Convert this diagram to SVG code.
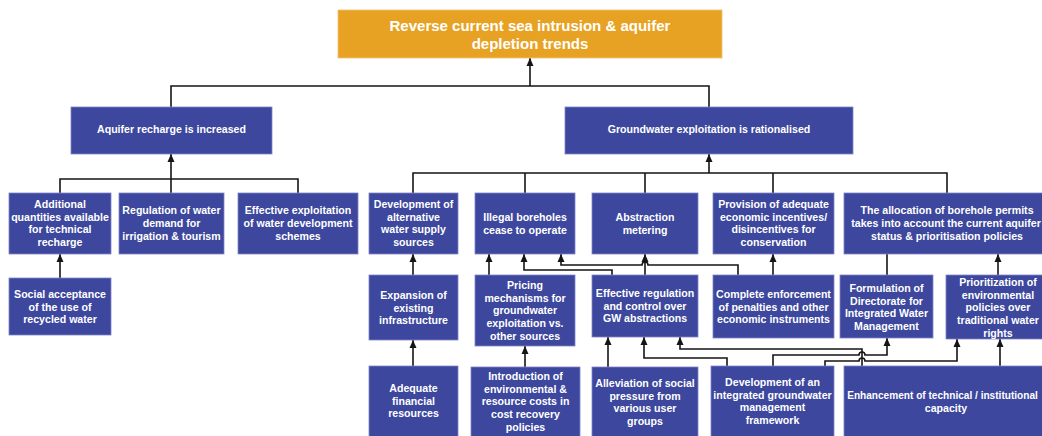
<svg xmlns="http://www.w3.org/2000/svg" width="1042" height="436" viewBox="0 0 1042 436">
  <defs>
    <style>
      .box { fill: #3c479d; stroke: #7f85c8; stroke-width: 0.8; }
      .goal { fill: #e7a224; stroke: #f0c070; stroke-width: 0.8; }
      .t { font-family: "Liberation Sans", Arial, sans-serif; font-weight: bold; font-size: 10.6px; fill: #ffffff; text-anchor: middle; }
      .tt { font-family: "Liberation Sans", Arial, sans-serif; font-weight: bold; font-size: 15px; fill: #ffffff; text-anchor: middle; }
      .c { fill: none; stroke: #151515; stroke-width: 1.6; }
      .a { marker-end: url(#arrow); }
    </style>
    <marker id="arrow" markerUnits="userSpaceOnUse" viewBox="0 0 8 8" refX="8" refY="4" markerWidth="8" markerHeight="8" orient="auto">
      <path d="M0,0.5 L8,4 L0,7.5 z" fill="#151515"/>
    </marker>
  </defs>
  <rect width="1042" height="436" fill="#ffffff"/>

  <!-- connectors -->
  <g id="connectors">
    <!-- to goal -->
    <path class="c" d="M171,107 V86 H709 V107"/>
    <path class="c a" d="M530,86 V58"/>
    <!-- to aquifer recharge -->
    <path class="c" d="M60,193 V179 H298 V193"/>
    <path class="c a" d="M171,193 V154"/>
    <!-- to groundwater exploitation -->
    <path class="c" d="M413,193 V173 H947 V193 M525,193 V173 M645,193 V173 M773,193 V173"/>
    <path class="c a" d="M709,173 V154"/>
    <!-- left column -->
    <path class="c a" d="M60,278 V254"/>
    <!-- development of alternative supply -->
    <path class="c a" d="M413,275 V254"/>
    <path class="c a" d="M413,366 V340"/>
    <!-- pricing -->
    <path class="c a" d="M525,367 V346"/>
    <path class="c a" d="M489,275 V254"/>
    <!-- effective regulation -->
    <path class="c a" d="M612,275 V270 H524 V254"/>
    <path class="c a" d="M645,275 V254"/>
    <!-- complete enforcement -->
    <path class="c a" d="M738,275 V265 H648 A3,3 0 0 0 642,265 H561 V254"/>
    <path class="c a" d="M773,275 V254"/>
    <!-- directorate / prioritisation -->
    <path class="c" d="M887,275 V254"/>
    <path class="c a" d="M998,275 V254"/>
    <!-- bottom row -->
    <path class="c a" d="M608,367 V337"/>
    <path class="c a" d="M727,366 V358 H644 V337"/>
    <path class="c a" d="M862,366 V349 H680 V337"/>
    <path class="c a" d="M773,366 V355 H859 A3,3 0 0 1 865,355 H887 V338"/>
    <path class="c a" d="M825,366 V361 H859 A3,3 0 0 1 865,361 H957 V339"/>
    <path class="c a" d="M1000,366 V339"/>
  </g>

  <!-- goal -->
  <g id="goal">
    <rect class="goal" x="338" y="10" width="384" height="48"/>
    <text class="tt" x="530" y="30.5">Reverse current sea intrusion &amp; aquifer</text>
    <text class="tt" x="530" y="48.5">depletion trends</text>
  </g>

  <!-- level 1 -->
  <g id="aquifer-recharge">
    <rect class="box" x="71" y="107" width="201" height="47"/>
    <text class="t" x="171.5" y="133">Aquifer recharge is increased</text>
  </g>
  <g id="groundwater-rationalised">
    <rect class="box" x="565" y="107" width="288" height="47"/>
    <text class="t" x="709" y="133">Groundwater exploitation is rationalised</text>
  </g>

  <!-- level 2 -->
  <g id="additional-quantities">
    <rect class="box" x="9" y="193" width="102" height="61"/>
    <text class="t" x="60" y="207.8">Additional</text>
    <text class="t" x="60" y="220.5">quantities available</text>
    <text class="t" x="60" y="233.2">for technical</text>
    <text class="t" x="60" y="245.9">recharge</text>
  </g>
  <g id="regulation-demand">
    <rect class="box" x="119" y="193" width="105" height="61"/>
    <text class="t" x="171.5" y="214">Regulation of water</text>
    <text class="t" x="171.5" y="227">demand for</text>
    <text class="t" x="171.5" y="240">irrigation &amp; tourism</text>
  </g>
  <g id="effective-exploitation">
    <rect class="box" x="238" y="193" width="120" height="61"/>
    <text class="t" x="298" y="214">Effective exploitation</text>
    <text class="t" x="298" y="227">of water development</text>
    <text class="t" x="298" y="240">schemes</text>
  </g>
  <g id="alternative-supply">
    <rect class="box" x="369" y="193" width="89" height="61"/>
    <text class="t" x="413.5" y="207.8">Development of</text>
    <text class="t" x="413.5" y="220.5">alternative</text>
    <text class="t" x="413.5" y="233.2">water supply</text>
    <text class="t" x="413.5" y="245.9">sources</text>
  </g>
  <g id="illegal-boreholes">
    <rect class="box" x="475" y="193" width="100" height="61"/>
    <text class="t" x="525" y="221">Illegal boreholes</text>
    <text class="t" x="525" y="233.7">cease to operate</text>
  </g>
  <g id="abstraction-metering">
    <rect class="box" x="592" y="193" width="106" height="61"/>
    <text class="t" x="645" y="221">Abstraction</text>
    <text class="t" x="645" y="233.7">metering</text>
  </g>
  <g id="economic-incentives">
    <rect class="box" x="713" y="193" width="121" height="61"/>
    <text class="t" x="773.5" y="207.8">Provision of adequate</text>
    <text class="t" x="773.5" y="220.5">economic incentives/</text>
    <text class="t" x="773.5" y="233.2">disincentives for</text>
    <text class="t" x="773.5" y="245.9">conservation</text>
  </g>
  <g id="borehole-permits">
    <rect class="box" x="844" y="193" width="206" height="61"/>
    <text class="t" x="947" y="214">The allocation of borehole permits</text>
    <text class="t" x="946" y="227">takes into account the current aquifer</text>
    <text class="t" x="947" y="240">status &amp; prioritisation policies</text>
  </g>

  <!-- level 3 -->
  <g id="social-acceptance">
    <rect class="box" x="9" y="278" width="102" height="57"/>
    <text class="t" x="60" y="298">Social acceptance</text>
    <text class="t" x="60" y="310.7">of the use of</text>
    <text class="t" x="60" y="323.4">recycled water</text>
  </g>
  <g id="expansion-infrastructure">
    <rect class="box" x="369" y="275" width="89" height="65"/>
    <text class="t" x="413.5" y="299">Expansion of</text>
    <text class="t" x="413.5" y="311.7">existing</text>
    <text class="t" x="413.5" y="324.4">infrastructure</text>
  </g>
  <g id="pricing-mechanisms">
    <rect class="box" x="475" y="275" width="100" height="71"/>
    <text class="t" x="525" y="289">Pricing</text>
    <text class="t" x="525" y="301.7">mechanisms for</text>
    <text class="t" x="525" y="314.4">groundwater</text>
    <text class="t" x="525" y="327.1">exploitation vs.</text>
    <text class="t" x="525" y="339.8">other sources</text>
  </g>
  <g id="effective-regulation">
    <rect class="box" x="592" y="275" width="106" height="62"/>
    <text class="t" x="645" y="297">Effective regulation</text>
    <text class="t" x="645" y="309.7">and control over</text>
    <text class="t" x="645" y="322.4">GW abstractions</text>
  </g>
  <g id="complete-enforcement">
    <rect class="box" x="713" y="275" width="121" height="63"/>
    <text class="t" x="773.5" y="298">Complete enforcement</text>
    <text class="t" x="773.5" y="310.7">of penalties and other</text>
    <text class="t" x="773.5" y="323.4">economic instruments</text>
  </g>
  <g id="directorate">
    <rect class="box" x="840" y="275" width="93" height="63"/>
    <text class="t" x="886.5" y="292">Formulation of</text>
    <text class="t" x="886.5" y="304.7">Directorate for</text>
    <text class="t" x="886.5" y="317.4">Integrated Water</text>
    <text class="t" x="886.5" y="330.1">Management</text>
  </g>
  <g id="environmental-priority">
    <rect class="box" x="946" y="275" width="104" height="64"/>
    <text class="t" x="998" y="286">Prioritization of</text>
    <text class="t" x="998" y="298.7">environmental</text>
    <text class="t" x="998" y="311.4">policies over</text>
    <text class="t" x="998" y="324.1">traditional water</text>
    <text class="t" x="998" y="336.8">rights</text>
  </g>

  <!-- level 4 -->
  <g id="financial-resources">
    <rect class="box" x="369" y="366" width="89" height="75"/>
    <text class="t" x="413.5" y="392">Adequate</text>
    <text class="t" x="413.5" y="404.7">financial</text>
    <text class="t" x="413.5" y="417.4">resources</text>
  </g>
  <g id="resource-costs">
    <rect class="box" x="471" y="367" width="109" height="74"/>
    <text class="t" x="525.5" y="380">Introduction of</text>
    <text class="t" x="525.5" y="392.7">environmental &amp;</text>
    <text class="t" x="525.5" y="405.4">resource costs in</text>
    <text class="t" x="525.5" y="418.1">cost recovery</text>
    <text class="t" x="525.5" y="430.8">policies</text>
  </g>
  <g id="social-pressure">
    <rect class="box" x="592" y="367" width="106" height="74"/>
    <text class="t" x="645" y="387">Alleviation of social</text>
    <text class="t" x="645" y="399.7">pressure from</text>
    <text class="t" x="645" y="412.4">various user</text>
    <text class="t" x="645" y="425.1">groups</text>
  </g>
  <g id="management-framework">
    <rect class="box" x="711" y="366" width="123" height="75"/>
    <text class="t" x="772.5" y="386">Development of an</text>
    <text class="t" x="772.5" y="398.7">integrated groundwater</text>
    <text class="t" x="772.5" y="411.4">management</text>
    <text class="t" x="772.5" y="424.1">framework</text>
  </g>
  <g id="capacity">
    <rect class="box" x="844" y="366" width="206" height="75"/>
    <text class="t" x="942.5" y="399" style="font-size:10.1px">Enhancement of technical / institutional</text>
    <text class="t" x="946" y="411.7">capacity</text>
  </g>
</svg>
